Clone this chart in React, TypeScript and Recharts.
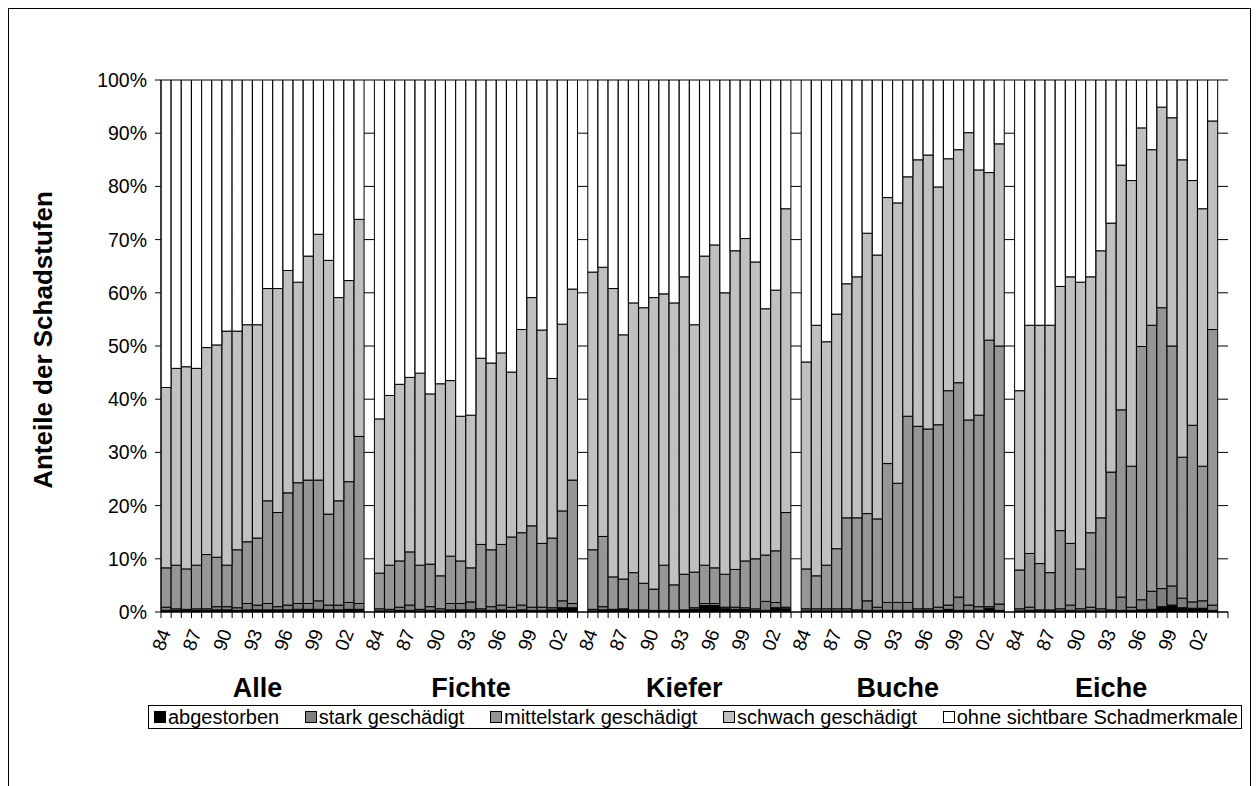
import React from "react";
import { BarChart, Bar, XAxis, YAxis, CartesianGrid } from "recharts";

const groups = ["Alle", "Fichte", "Kiefer", "Buche", "Eiche"];
const years = [
  "84", "85", "86", "87", "88", "89", "90", "91", "92", "93",
  "94", "95", "96", "97", "98", "99", "00", "01", "02", "03",
];
const shownYears = ["84", "87", "90", "93", "96", "99", "02"];
const groupLabelYear = "93";

// Alle
const abgAlle = [0.3, 0.3, 0.3, 0.3, 0.3, 0.4, 0.4, 0.3, 0.4, 0.4, 0.4, 0.4, 0.4, 0.5, 0.5, 0.5, 0.4, 0.4, 0.5, 0.5];
const starkAlle = [0.6, 0.3, 0.2, 0.3, 0.3, 0.6, 0.6, 0.5, 1.2, 0.9, 1.2, 0.6, 0.9, 1.1, 1.1, 1.6, 0.9, 0.9, 1.3, 1.1];
const mittelAlle = [7.4, 8.2, 7.6, 8.2, 10.2, 9.3, 7.8, 10.9, 11.6, 12.6, 19.3, 17.7, 21.1, 22.7, 23.2, 22.7, 17.1, 19.6, 22.7, 31.4];
const schwachAlle = [33.9, 37.0, 38.0, 37.0, 38.9, 39.9, 44.0, 41.1, 40.8, 40.1, 39.9, 42.1, 41.8, 37.7, 42.1, 46.2, 47.7, 38.2, 37.8, 40.8];
const ohneAlle = [57.8, 54.2, 53.9, 54.2, 50.3, 49.8, 47.2, 47.2, 46.0, 46.0, 39.2, 39.2, 35.8, 38.0, 33.1, 29.0, 33.9, 40.9, 37.7, 26.2];

// Fichte
const abgFichte = [0.2, 0.2, 0.3, 0.3, 0.2, 0.3, 0.2, 0.4, 0.4, 0.4, 0.3, 0.3, 0.4, 0.3, 0.4, 0.3, 0.3, 0.4, 0.8, 0.8];
const starkFichte = [0.4, 0.3, 0.6, 1.0, 0.3, 0.7, 0.4, 1.2, 1.2, 1.5, 0.3, 0.7, 0.9, 0.6, 0.9, 0.6, 0.6, 0.4, 1.3, 0.8];
const mittelFichte = [6.7, 8.3, 8.7, 10.0, 8.3, 8.0, 6.2, 8.9, 8.0, 6.4, 12.1, 10.7, 11.4, 13.2, 13.6, 15.3, 12.0, 13.1, 16.9, 23.2];
const schwachFichte = [29.0, 31.9, 33.2, 32.8, 36.1, 32.0, 36.1, 33.0, 27.2, 28.7, 35.0, 35.1, 36.0, 31.0, 38.2, 42.9, 40.1, 30.0, 35.1, 35.9];
const ohneFichte = [63.7, 59.3, 57.2, 55.9, 55.1, 59.0, 57.1, 56.5, 63.2, 63.0, 52.3, 53.2, 51.3, 54.9, 46.9, 40.9, 47.0, 56.1, 45.9, 39.3];

// Kiefer
const abgKiefer = [0.2, 0.4, 0.3, 0.4, 0.2, 0.2, 0.2, 0.2, 0.2, 0.3, 0.5, 1.2, 1.2, 0.6, 0.5, 0.5, 0.3, 0.3, 0.8, 0.6];
const starkKiefer = [0.3, 0.6, 0.2, 0.2, 0.2, 0.2, 0.1, 0.1, 0.1, 0.1, 0.3, 0.4, 0.4, 0.3, 0.4, 0.3, 0.3, 1.7, 1.0, 0.3];
const mittelKiefer = [11.2, 13.2, 6.1, 5.6, 7.0, 5.0, 4.0, 8.5, 4.8, 6.7, 6.7, 7.2, 6.7, 6.2, 7.1, 8.8, 9.4, 8.7, 9.7, 17.8];
const schwachKiefer = [52.2, 50.6, 54.2, 45.9, 50.7, 51.8, 54.8, 51.0, 53.0, 55.9, 46.5, 58.1, 60.7, 52.9, 59.9, 60.6, 55.8, 46.3, 49.0, 57.1];
const ohneKiefer = [36.1, 35.2, 39.2, 47.9, 41.9, 42.8, 40.9, 40.2, 41.9, 37.0, 46.0, 33.1, 31.0, 40.0, 32.1, 29.8, 34.2, 43.0, 39.5, 24.2];

// Buche
const abgBuche = [0.2, 0.2, 0.2, 0.2, 0.2, 0.2, 0.3, 0.3, 0.3, 0.3, 0.3, 0.3, 0.3, 0.3, 0.5, 0.3, 0.3, 0.3, 0.7, 0.3];
const starkBuche = [0.4, 0.4, 0.4, 0.4, 0.4, 0.2, 1.8, 0.6, 1.5, 1.5, 1.5, 0.3, 0.3, 0.6, 0.8, 2.5, 1.0, 0.7, 0.3, 1.2];
const mittelBuche = [7.5, 6.2, 8.2, 11.3, 17.1, 17.3, 16.4, 16.6, 26.1, 22.4, 35.0, 34.3, 33.8, 34.3, 40.3, 40.3, 34.8, 36.0, 50.1, 48.5];
const schwachBuche = [38.9, 47.1, 42.0, 44.1, 44.0, 45.3, 52.7, 49.6, 50.0, 52.7, 45.0, 50.1, 51.5, 44.7, 43.6, 43.8, 54.0, 46.1, 31.5, 38.0];
const ohneBuche = [53.0, 46.1, 49.2, 44.0, 38.3, 37.0, 28.8, 32.9, 22.1, 23.1, 18.2, 15.0, 14.1, 20.1, 14.8, 13.1, 9.9, 16.9, 17.4, 12.0];

// Eiche
const abgEiche = [0.2, 0.3, 0.2, 0.2, 0.2, 0.3, 0.2, 0.3, 0.2, 0.2, 0.3, 0.3, 0.4, 0.5, 1.0, 1.3, 0.8, 0.7, 0.7, 0.3];
const starkEiche = [0.4, 0.6, 0.2, 0.2, 0.4, 1.0, 0.4, 0.6, 0.4, 0.2, 2.5, 0.6, 1.9, 3.4, 3.4, 3.6, 1.8, 1.2, 1.4, 1.0];
const mittelEiche = [7.3, 10.1, 8.7, 7.0, 14.7, 11.6, 7.5, 14.0, 17.1, 25.9, 35.2, 26.5, 47.6, 50.0, 52.8, 45.1, 26.5, 33.2, 25.3, 51.8];
const schwachEiche = [33.7, 42.9, 44.8, 46.5, 45.9, 50.1, 53.9, 48.1, 50.2, 46.8, 46.0, 53.7, 41.1, 33.0, 37.7, 42.9, 55.9, 46.0, 48.4, 39.2];
const ohneEiche = [58.4, 46.1, 46.1, 46.1, 38.8, 37.0, 38.0, 37.0, 32.1, 26.9, 16.0, 18.9, 9.0, 13.1, 5.1, 7.1, 15.0, 18.9, 24.2, 7.7];

const seriesByGroup: Record<string, number[][]> = {
  Alle: [abgAlle, starkAlle, mittelAlle, schwachAlle, ohneAlle],
  Fichte: [abgFichte, starkFichte, mittelFichte, schwachFichte, ohneFichte],
  Kiefer: [abgKiefer, starkKiefer, mittelKiefer, schwachKiefer, ohneKiefer],
  Buche: [abgBuche, starkBuche, mittelBuche, schwachBuche, ohneBuche],
  Eiche: [abgEiche, starkEiche, mittelEiche, schwachEiche, ohneEiche],
};

const series = [
  { key: "abg", name: "abgestorben", color: "#000000" },
  { key: "stark", name: "stark geschädigt", color: "#808080" },
  { key: "mittel", name: "mittelstark geschädigt", color: "#969696" },
  { key: "schwach", name: "schwach geschädigt", color: "#C0C0C0" },
  { key: "ohne", name: "ohne sichtbare Schadmerkmale", color: "#FFFFFF" },
];

// one row per year, plus an empty slot after every group
const rows: any[] = [];
groups.forEach((g, gi) => {
  years.forEach((y, yi) => {
    const row: any = { key: `${g}|${y}` };
    series.forEach((s, si) => {
      row[s.key] = seriesByGroup[g][si][yi];
    });
    rows.push(row);
  });
  rows.push({ key: `gap${gi}` });
});

const FONT = "'Liberation Sans', Arial, sans-serif";

function YearTick(props: any) {
  const { x, y, payload } = props;
  const [group, year] = String(payload.value).split("|");
  const half = payload.offset ?? 5;
  const axisY = y - 6;
  return (
    <g>
      <line x1={x - half} x2={x - half} y1={axisY} y2={axisY + 6} stroke="#000" />
      {payload.index === rows.length - 1 && (
        <line x1={x + half} x2={x + half} y1={axisY} y2={axisY + 6} stroke="#000" />
      )}
      {year && shownYears.includes(year) && (
        <text
          x={x - 1}
          y={y + 12}
          transform={`rotate(-70 ${x - 1} ${y + 12})`}
          textAnchor="end"
          dominantBaseline="central"
          fontSize={19}
          fontFamily={FONT}
          fill="#000"
        >
          {year}
        </text>
      )}
      {year === groupLabelYear && (
        <text
          x={x}
          y={y + 79}
          textAnchor="middle"
          fontSize={27}
          fontWeight="bold"
          fontFamily={FONT}
          fill="#000"
        >
          {group}
        </text>
      )}
    </g>
  );
}

function LegendBox() {
  return (
    <div
      style={{
        position: "absolute",
        left: 148,
        top: 705,
        width: 1094,
        height: 24,
        border: "1px solid #000",
        boxSizing: "border-box",
        display: "flex",
        alignItems: "center",
        justifyContent: "space-between",
        padding: "0 3px 0 5px",
        fontFamily: FONT,
        fontSize: 20,
        color: "#000",
        whiteSpace: "nowrap",
        background: "#fff",
      }}
    >
      {series.map((s) => (
        <div key={s.key} style={{ display: "flex", alignItems: "center" }}>
          <span
            style={{
              display: "inline-block",
              width: 10,
              height: 10,
              background: s.color,
              border: "1px solid #000",
              marginRight: 2,
            }}
          />
          <span>{s.name}</span>
        </div>
      ))}
    </div>
  );
}

export default function App() {
  return (
    <div style={{ position: "absolute", left: 0, top: 0, width: 1260, height: 786, background: "#fff", overflow: "hidden" }}>
      <div
        style={{
          position: "absolute",
          left: 8,
          top: 8,
          width: 1243,
          height: 800,
          border: "1px solid #000",
          boxSizing: "border-box",
        }}
      />
      <div style={{ position: "absolute", left: 0, top: 0 }}>
        <BarChart
          width={1260}
          height={786}
          data={rows}
          margin={{ top: 80, right: 32, left: 0, bottom: 74 }}
          barCategoryGap={0}
          barGap={0}
        >
          <CartesianGrid vertical={false} stroke="#000" />
          <XAxis
            dataKey="key"
            interval={0}
            tickLine={false}
            tickSize={6}
            tickMargin={0}
            axisLine={{ stroke: "#000" }}
            tick={<YearTick />}
            height={100}
          />
          <YAxis
            width={161}
            domain={[0, 100]}
            ticks={[0, 10, 20, 30, 40, 50, 60, 70, 80, 90, 100]}
            tickFormatter={(v: number) => `${v}%`}
            axisLine={{ stroke: "#000" }}
            tickLine={{ stroke: "#000" }}
            tickSize={6}
            tickMargin={8}
            tick={{ fill: "#000", fontSize: 19.5, fontFamily: FONT }}
            allowDataOverflow
            label={{
              value: "Anteile der Schadstufen",
              angle: -90,
              position: "center",
              dx: -38,
              dy: -6,
              style: { fontSize: 26, fontWeight: "bold", fontFamily: FONT, fill: "#000" },
            }}
          />
          {series.map((s) => (
            <Bar
              key={s.key}
              dataKey={s.key}
              name={s.name}
              stackId="a"
              fill={s.color}
              stroke="#000"
              strokeWidth={1}
              isAnimationActive={false}
            />
          ))}
        </BarChart>
      </div>
      <LegendBox />
    </div>
  );
}
